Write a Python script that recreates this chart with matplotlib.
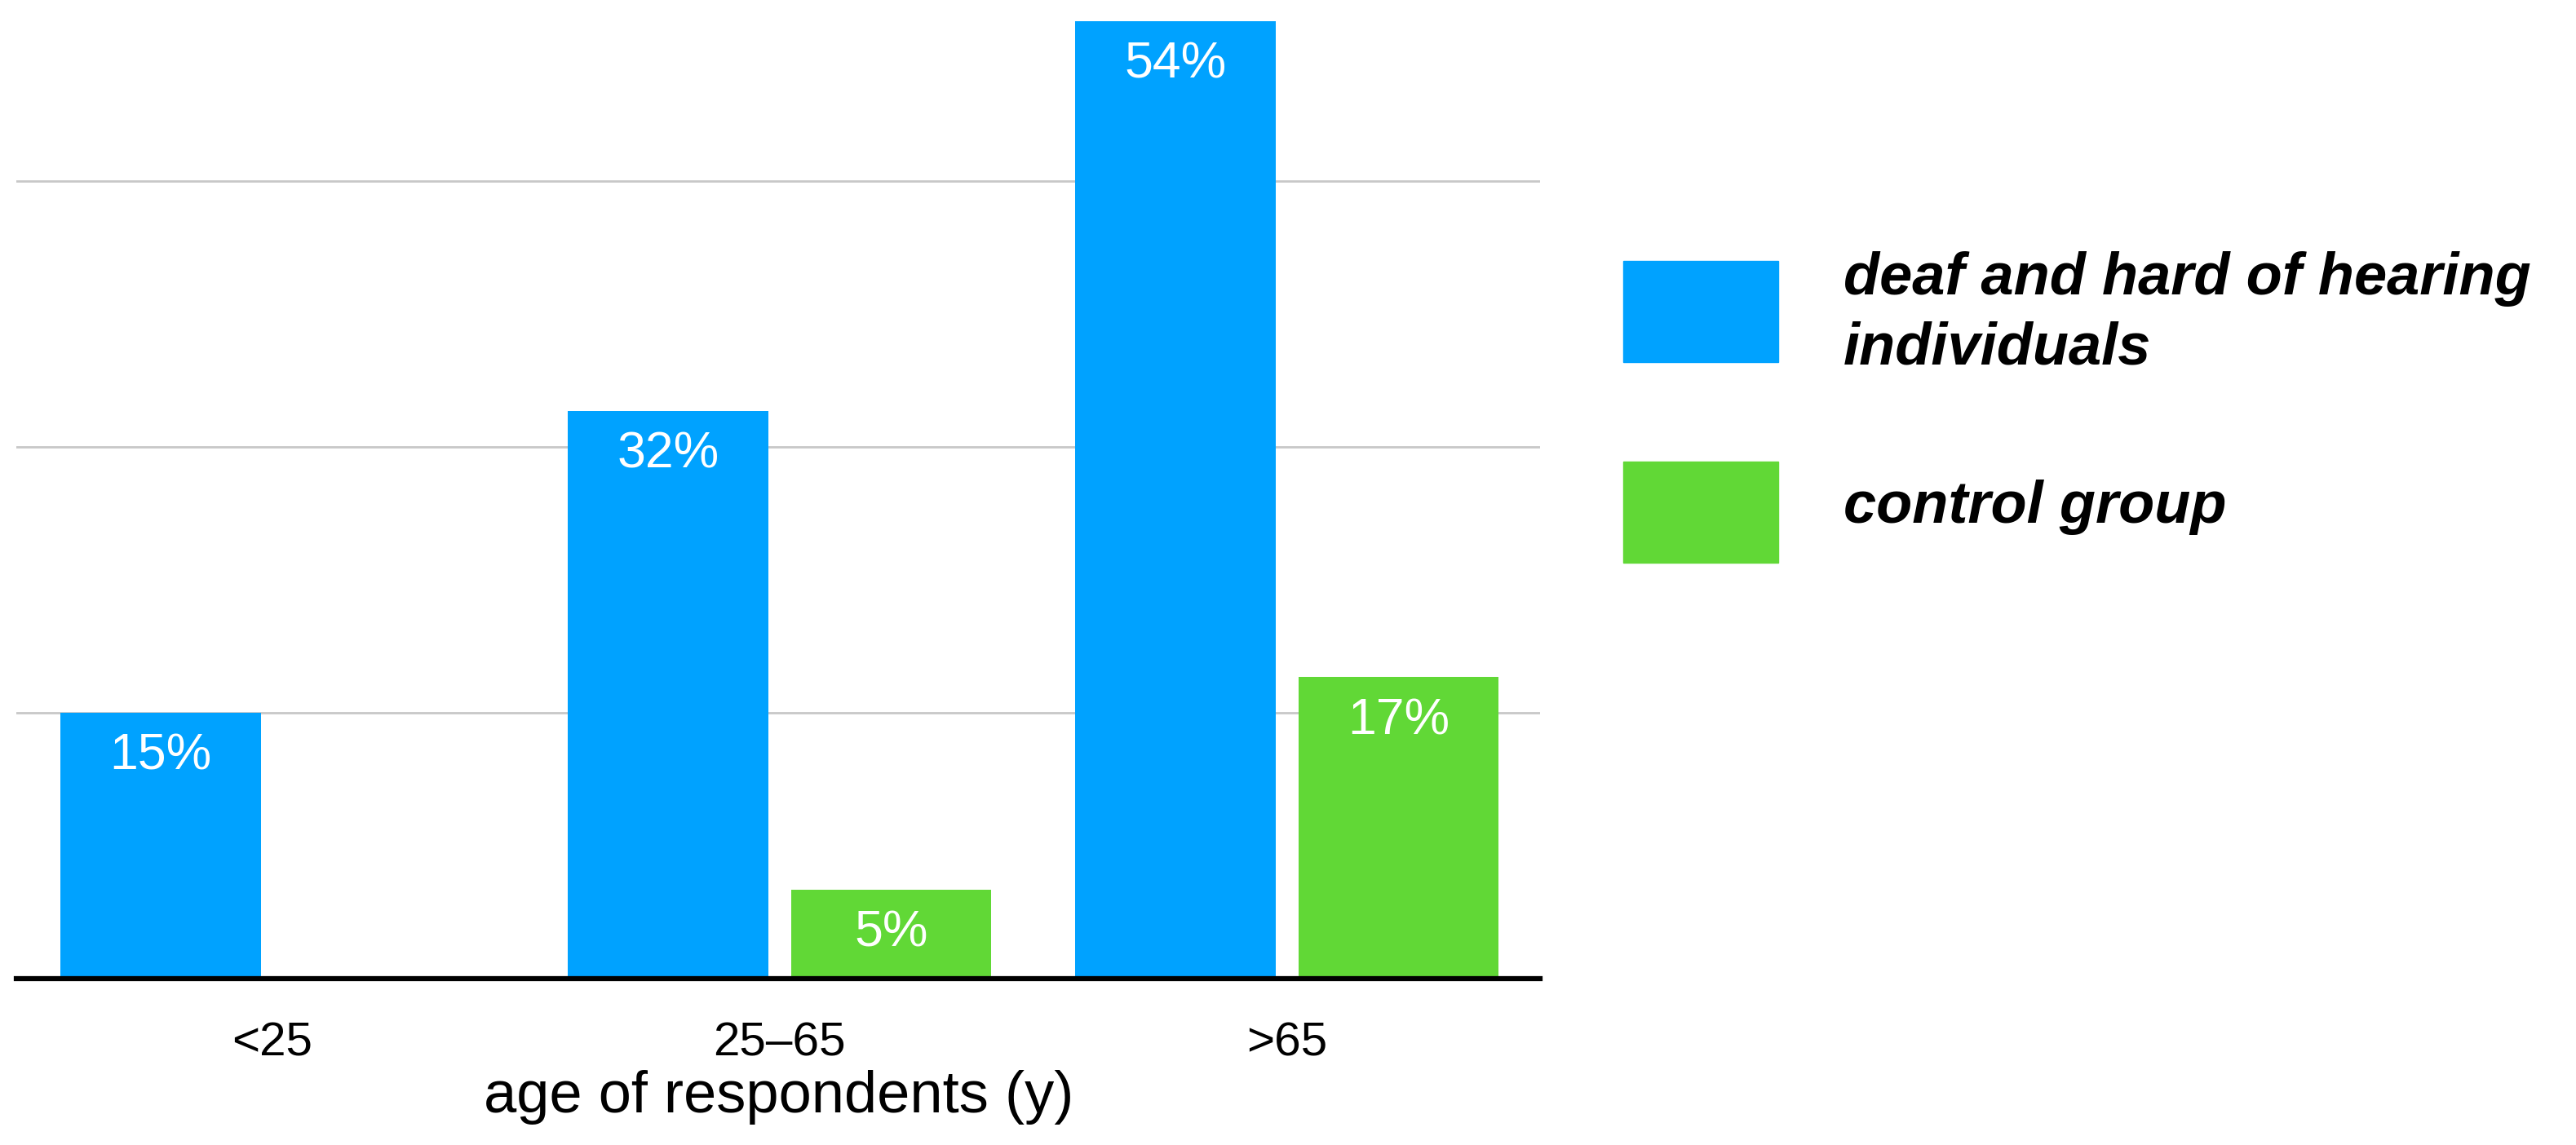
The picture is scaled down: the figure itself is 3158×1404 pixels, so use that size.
import matplotlib.pyplot as plt
import numpy as np
from matplotlib.patches import Rectangle

plt.rcParams['font.family'] = ['Liberation Sans', 'DejaVu Sans']

groups = ['<25', '25–65', '>65']
deaf = [15, 32, 54]
control = [0, 5, 17]
labels = ['deaf and hard of hearing\nindividuals', 'control group']
colors = ['#00A2FF', '#61D836']

fig = plt.figure(figsize=(31.58, 14.04), dpi=100)
ax = fig.add_axes([0.0063, 0.1453, 0.5917, 0.8547])

x = np.arange(len(groups))
w = 0.395
off = 0.22
b1 = ax.bar(x - off, deaf, w, color=colors[0], zorder=3)
b2 = ax.bar(x + off, control, w, color=colors[1], zorder=3)

for bars, vals in [(b1, deaf), (b2, control)]:
    for r, v in zip(bars, vals):
        if v == 0:
            continue
        ax.annotate(f'{v}%', (r.get_x() + r.get_width() / 2, v),
                    xytext=(0, -17), textcoords='offset points',
                    ha='center', va='top', color='white', fontsize=45, zorder=4)

ax.set_xlim(-0.505, 2.50)
ax.set_ylim(0, 55.2)
ax.set_yticks([15, 30, 45])
ax.yaxis.grid(True, color='#c8c8c8', linewidth=2)
ax.set_axisbelow(True)
ax.tick_params(axis='y', left=False, labelleft=False)
ax.tick_params(axis='x', length=0, pad=38, labelsize=42)
ax.set_xticks(x)
ax.set_xticklabels(groups)
ax.set_xlabel('age of respondents (y)', fontsize=52, labelpad=4)
for s in ['top', 'right', 'left']:
    ax.spines[s].set_visible(False)
ax.spines['bottom'].set_linewidth(4.5)
ax.spines['bottom'].set_color('black')
ax.spines['bottom'].set_zorder(5)

# legend
box_y = [0.6838, 0.5085]
text_y = [0.7258, 0.557]
for c, lab, by, ty in zip(colors, labels, box_y, text_y):
    fig.patches.append(Rectangle((0.630, by), 0.0602, 0.0883, color=c,
                                 transform=fig.transFigure, figure=fig))
    fig.text(0.7157, ty, lab, fontsize=52, fontweight='bold', fontstyle='italic',
             ha='left', va='center', linespacing=1.32)

fig.savefig('out.png', dpi=100, facecolor='white')
